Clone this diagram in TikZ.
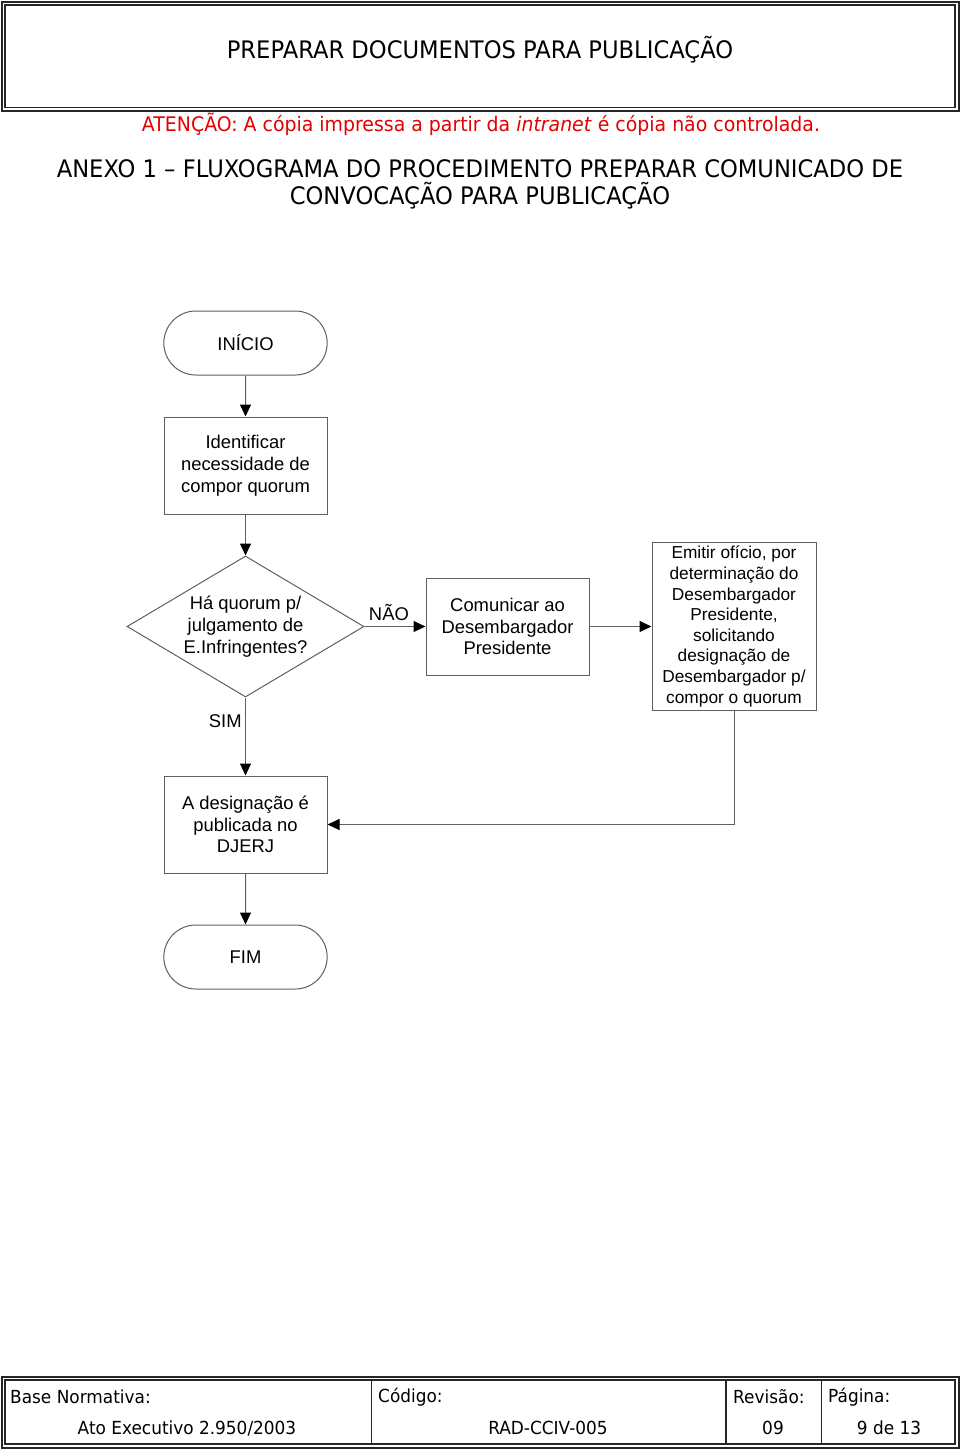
\documentclass[tikz,border=0pt]{standalone}
\usepackage{fontspec}
\setmainfont{Liberation Sans}
\newfontfamily\hdrfont[FakeStretch=0.94]{DejaVu Sans}
\usetikzlibrary{shapes.geometric, shapes.misc, arrows.meta, positioning}
\definecolor{avisored}{RGB}{226,0,0}
\definecolor{linegray}{RGB}{95,95,95}

\begin{document}
\begin{tikzpicture}[
        x=1pt, y=-1pt,
        flowtext/.style={font=\fontsize{18.4}{21.8}\selectfont},
        terminal/.style={rounded rectangle, draw=linegray, line width=1pt, flowtext, minimum width=170pt, minimum height=64pt},
        process/.style={rectangle, draw=linegray, line width=1pt, flowtext, minimum width=163pt, minimum height=97pt, align=center},
        decision/.style={diamond, draw=linegray, line width=1pt, flowtext, aspect=1.68, minimum width=237pt, minimum height=141pt, align=center, inner sep=0pt},
        arrow/.style={draw=linegray, line width=1pt, -{Triangle[length=12pt, width=11pt, color=black]}},
        hdr/.style={font=\hdrfont\fontsize{24.1}{27}\selectfont, align=center},
        foot/.style={font=\hdrfont\fontsize{18}{21}\selectfont, inner sep=0pt}
    ]
        \useasboundingbox (0,0) rectangle (960,1451);

        % cabecalho
        \draw[black!85, line width=2pt] (1.5,1.5) rectangle (958.5,111);
        \draw[black!85, line width=1.2pt] (5,5) rectangle (955,107.5);
        \node[hdr] (titulo) at (480,50) {PREPARAR DOCUMENTOS PARA PUBLICAÇÃO};
        \node[hdr, font=\hdrfont\fontsize{20.1}{24}\selectfont, text=avisored] (aviso) at (481,124) {ATENÇÃO: A cópia impressa a partir da \textit{intranet} é cópia não controlada.};
        \node[hdr] (anexo) at (480,184.5) {ANEXO 1 – FLUXOGRAMA DO PROCEDIMENTO PREPARAR COMUNICADO DE\\CONVOCAÇÃO PARA PUBLICAÇÃO};

        % fluxograma
        \node[terminal] (inicio) at (245.5,343) {INÍCIO};
        \node[process, below=41pt of inicio] (ident) {Identificar\\necessidade de\\compor quorum};
        \node[decision, below=41pt of ident] (quorum) {Há quorum p/\\julgamento de\\E.Infringentes?};
        \node[process, right=61pt of quorum] (comun) {Comunicar ao\\Desembargador\\Presidente};
        \node[process, right=62pt of comun, minimum width=164pt, minimum height=168pt, font=\fontsize{17.3}{20.6}\selectfont] (oficio) {Emitir ofício, por\\determinação do\\Desembargador\\Presidente,\\solicitando\\designação de\\Desembargador p/\\compor o quorum};
        \node[process, below=78pt of quorum] (publica) {A designação é\\publicada no\\DJERJ};
        \node[terminal, below=51pt of publica] (fim) {FIM};

        \draw[arrow] (inicio) -- (ident);
        \draw[arrow] (ident) -- (quorum);
        \draw[arrow] (quorum) -- node[above, pos=0.4, yshift=2pt, flowtext] (nao) {NÃO} (comun);
        \draw[arrow] (comun) -- (oficio);
        \draw[arrow] (quorum) -- node[left, pos=0.3, flowtext] (sim) {SIM} (publica);
        \draw[arrow] (oficio) |- (publica);
        \draw[arrow] (publica) -- (fim);

        % rodape
        \draw[black!85, line width=2pt] (1.5,1376.5) rectangle (958.5,1447.5);
        \draw[black!85, line width=1.2pt] (5,1380) rectangle (955,1444);
        \foreach \xsep in {371.5, 726, 821.5}
            \draw[black!85, line width=1.2pt] (\xsep,1380) -- (\xsep,1444);
        \node[foot, anchor=west] (basenorm) at (10,1397) {Base Normativa:};
        \node[foot] (ato) at (187,1428) {Ato Executivo 2.950/2003};
        \node[foot, anchor=west] (codigo) at (378,1397) {Código:};
        \node[foot] (codval) at (548,1428) {RAD-CCIV-005};
        \node[foot, anchor=west] (revisao) at (733,1397) {Revisão:};
        \node[foot] (revval) at (773,1428) {09};
        \node[foot, anchor=west] (pagina) at (828,1397) {Página:};
        \node[foot] (pagval) at (889,1428) {9 de 13};
\end{tikzpicture}
\end{document}
